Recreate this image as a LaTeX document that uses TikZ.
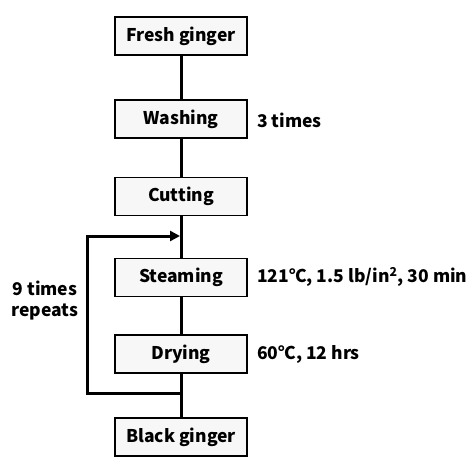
\documentclass[tikz,border=0pt]{standalone}
\usepackage{fontspec}
\setmainfont{Noto Sans CJK KR}
\usepackage{tikz}
\usetikzlibrary{arrows.meta}

\begin{document}
\begin{tikzpicture}[
  x=1pt, y=-1pt,
  font=\fontsize{17.5}{21}\selectfont\bfseries,
  stepbox/.style={draw=black, line width=1.8pt, minimum width=132pt, minimum height=38pt, inner sep=0pt, align=center, fill=black!3},
  note/.style={anchor=west, inner sep=0pt},
  link/.style={line width=3pt},
  arr/.style={-{Triangle[length=10pt, width=10pt]}, line width=3pt},
]
\useasboundingbox (0,0) rectangle (474,468);

% Process steps
\node[stepbox] (fresh) at (181, 36) {Fresh ginger};
\node[stepbox] (wash) at (181, 119) {Washing};
\node[stepbox] (cut) at (181, 196.5) {Cutting};
\node[stepbox] (steam) at (181, 277.5) {Steaming};
\node[stepbox] (dry) at (181, 354) {Drying};
\node[stepbox] (black) at (181, 437) {Black ginger};

% Conditions
\node[note] (washnote) at (257, 120) {3 times};
\node[note] (steamnote) at (257, 277) {121℃, 1.5 lb/in\textsuperscript{2}, 30 min};
\node[note] (drynote) at (257, 354) {60℃, 12 hrs};
\node[align=center, inner sep=0pt] (repeat) at (45, 301) {9 times\\repeats};

% Connectors
\draw[link] (fresh) -- (wash);
\draw[link] (wash) -- (cut);
\draw[link] (cut) -- (steam);
\draw[link] (steam) -- (dry);
\draw[link] (dry) -- (black);

% Loop back
\coordinate (loopout) at (181, 393);
\coordinate (loopcorner) at (87, 393);
\coordinate (loopin) at (180, 236);
\draw[arr, line join=miter] (loopout) -- (loopcorner) |- (loopin);

\end{tikzpicture}
\end{document}
